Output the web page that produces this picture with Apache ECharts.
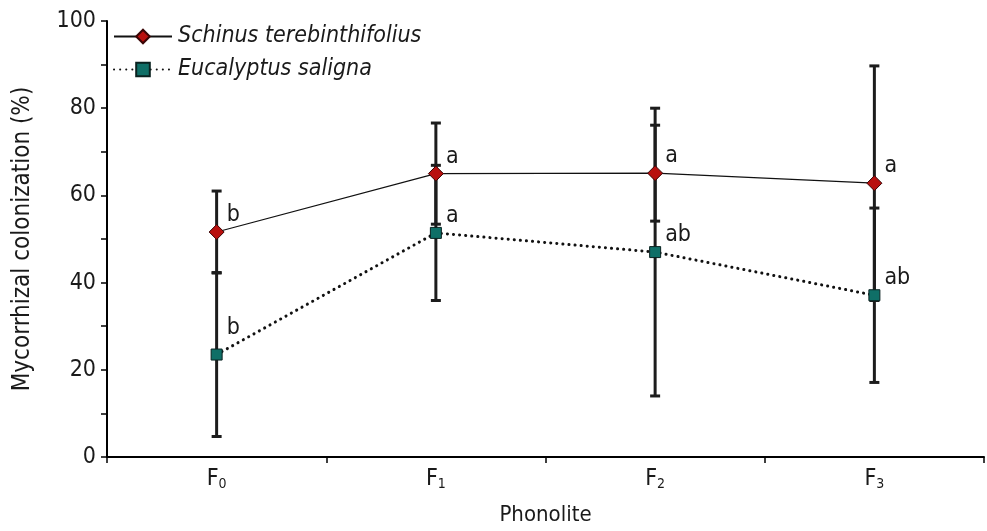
<!DOCTYPE html>
<html>
<head>
<meta charset="utf-8">
<script src="https://cdn.jsdelivr.net/npm/echarts@6/dist/echarts.min.js"></script>
<style>
html,body{margin:0;padding:0;background:#fff;}
#chart{width:987px;height:531px;}
</style>
</head>
<body>
<div id="chart"></div>
<script>
// ---- data ----
const categories = ['F0', 'F1', 'F2', 'F3'];
const seriesNames = ['Schinus terebinthifolius', 'Eucalyptus saligna'];
const schinusMean = [51.6, 65.0, 65.1, 62.8];
const schinusErr = [9.4, 11.6, 11.0, 26.9];
const schinusLetters = ['b', 'a', 'a', 'a'];
const eucalyptusMean = [23.5, 51.4, 47.0, 37.1];
const eucalyptusErr = [18.8, 15.5, 33.0, 20.0];
const eucalyptusLetters = ['b', 'a', 'ab', 'ab'];
const yTicks = [0, 20, 40, 60, 80, 100];

const FONT = "'DejaVu Sans Condensed', 'DejaVu Sans'";
const TXT = '#1a1a1a';

function errData(mean, err) {
  return mean.map((m, i) => [i, m - err[i], m + err[i]]);
}
function errRender(params, api) {
  const x = api.value(0);
  const lo = api.coord([x, api.value(1)]);
  const hi = api.coord([x, api.value(2)]);
  const cw = 5;
  const style = { stroke: '#1c1c1c', lineWidth: 3, fill: null };
  return {
    type: 'group',
    children: [
      { type: 'line', shape: { x1: hi[0], y1: hi[1], x2: lo[0], y2: lo[1] }, style: style },
      { type: 'line', shape: { x1: hi[0] - cw, y1: hi[1], x2: hi[0] + cw, y2: hi[1] }, style: style },
      { type: 'line', shape: { x1: lo[0] - cw, y1: lo[1], x2: lo[0] + cw, y2: lo[1] }, style: style }
    ]
  };
}
function withLabels(mean, letters, extraOffsets) {
  return mean.map((v, i) => {
    const d = { value: v };
    d.label = { formatter: letters[i] };
    if (extraOffsets && extraOffsets[i]) d.label.offset = extraOffsets[i];
    return d;
  });
}

const chart = echarts.init(document.getElementById('chart'), null, { renderer: 'canvas' });
chart.setOption({
  animation: false,
  backgroundColor: '#ffffff',
  textStyle: { fontFamily: FONT },
  grid: { left: 107, right: 3, top: 21, bottom: 71 },
  legend: {
    orient: 'vertical',
    left: 108,
    top: 20,
    itemWidth: 58,
    itemHeight: 17,
    itemGap: 10,
    data: seriesNames,
    textStyle: { fontFamily: FONT, fontSize: 23, lineHeight: 20, fontStyle: 'italic', color: TXT, padding: [0, 0, 0, 1] }
  },
  xAxis: {
    type: 'category',
    data: categories,
    boundaryGap: true,
    name: 'Phonolite',
    nameLocation: 'middle',
    nameGap: 47,
    nameTextStyle: { fontFamily: FONT, fontSize: 22, color: TXT },
    axisLine: { lineStyle: { color: '#000', width: 2 } },
    axisTick: { show: true, length: 6, lineStyle: { color: '#000', width: 1.5 } },
    axisLabel: {
      margin: 10,
      formatter: v => '{m|' + v.charAt(0) + '}{s|' + v.slice(1) + '}',
      rich: {
        m: { fontFamily: FONT, fontSize: 23, color: TXT, lineHeight: 24, verticalAlign: 'bottom' },
        s: { fontFamily: FONT, fontSize: 14, color: TXT, lineHeight: 10, verticalAlign: 'bottom' }
      }
    },
    splitLine: { show: false }
  },
  yAxis: {
    type: 'value',
    min: yTicks[0],
    max: yTicks[yTicks.length - 1],
    interval: yTicks[1] - yTicks[0],
    name: 'Mycorrhizal colonization (%)',
    nameLocation: 'middle',
    nameGap: 72,
    nameTextStyle: { fontFamily: FONT, fontSize: 24, color: TXT },
    axisLine: { show: true, lineStyle: { color: '#000', width: 2 } },
    axisTick: { show: true, length: 6, lineStyle: { color: '#000', width: 1.5 } },
    minorTick: { show: true, splitNumber: 2, length: 6, lineStyle: { color: '#000', width: 1.5 } },
    axisLabel: { margin: 11, fontFamily: FONT, fontSize: 23, color: TXT },
    splitLine: { show: false }
  },
  series: [
    {
      type: 'custom',
      name: 'errS',
      renderItem: errRender,
      data: errData(schinusMean, schinusErr),
      encode: { x: 0, y: [1, 2] },
      z: 1,
      silent: true
    },
    {
      type: 'custom',
      name: 'errE',
      renderItem: errRender,
      data: errData(eucalyptusMean, eucalyptusErr),
      encode: { x: 0, y: [1, 2] },
      z: 1,
      silent: true
    },
    {
      type: 'line',
      name: seriesNames[0],
      data: withLabels(schinusMean, schinusLetters),
      symbol: 'diamond',
      symbolSize: 15,
      z: 3,
      lineStyle: { color: '#111', width: 1.2, type: 'solid' },
      itemStyle: { color: '#b8100e', borderColor: '#3a0505', borderWidth: 1 },
      label: {
        show: true, position: 'right', distance: 0, offset: [2, -17],
        fontFamily: FONT, fontSize: 23, color: TXT
      }
    },
    {
      type: 'line',
      name: seriesNames[1],
      data: withLabels(eucalyptusMean, eucalyptusLetters, [[4, -27]]),
      symbol: 'rect',
      symbolSize: 11,
      z: 3,
      lineStyle: { color: '#111', width: 3, type: [0.1, 6], cap: 'round' },
      itemStyle: { color: '#0f6f67', borderColor: '#0a2220', borderWidth: 1 },
      label: {
        show: true, position: 'right', distance: 0, offset: [4, -17],
        fontFamily: FONT, fontSize: 23, color: TXT
      }
    }
  ]
});
</script>
</body>
</html>
